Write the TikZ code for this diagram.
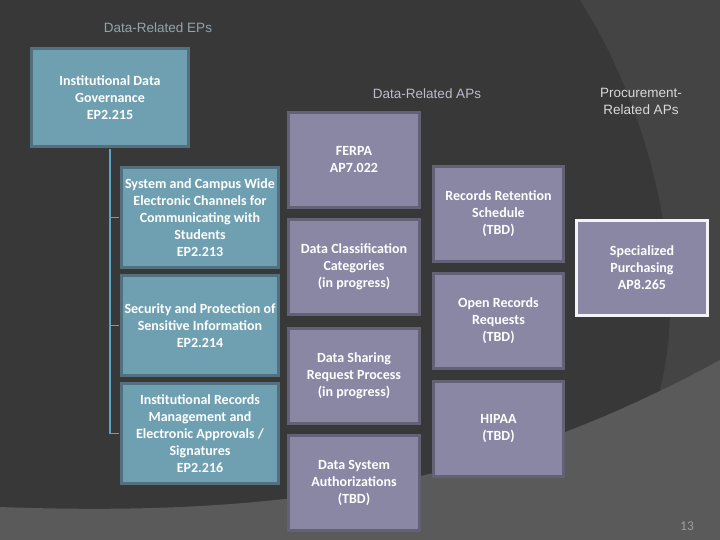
\documentclass[tikz,border=0pt]{standalone}
\usepackage{fontspec}
\setmainfont{Carlito}
\newfontfamily\headfont{Liberation Sans}
\definecolor{slidebg}{HTML}{383838}
\definecolor{slidearc}{HTML}{444444}
\definecolor{slideband}{HTML}{5A5A5A}
\definecolor{epfill}{HTML}{6FA0B1}
\definecolor{epline}{HTML}{52707E}
\definecolor{apfill}{HTML}{8A87A5}
\definecolor{apline}{HTML}{636176}
\definecolor{treeline}{HTML}{5DA3C6}
\definecolor{headep}{HTML}{93A5AD}
\definecolor{headap}{HTML}{BDBBCC}
\begin{document}
\begin{tikzpicture}[x=1pt,y=-1pt,shorten >=1.5pt]
	\tikzstyle{box}=[rectangle,draw,line width=3pt,text=white,align=center,inner sep=0pt,font=\fontsize{14}{17}\selectfont\bfseries]
	\tikzstyle{ep}=[box,fill=epfill,draw=epline,minimum width=157pt,minimum height=100pt]
	\tikzstyle{ap}=[box,fill=apfill,draw=apline,minimum width=131pt,minimum height=95pt]
	\tikzstyle{head}=[align=center,font=\headfont\fontsize{13.5}{17}\selectfont]
	\tikzstyle{tree}=[draw=treeline,line width=1.5pt]

	% slide background
	\fill[slidebg] (0,0) rectangle (720,540);
	\fill[slidearc] (580,0) .. controls (650,110) and (690,270) .. (660,390) -- (720,390) -- (720,0) -- cycle;
	\fill[slideband] (0,507) .. controls (300,518) and (500,480) .. (720,360) -- (720,540) -- (0,540) -- cycle;
	\useasboundingbox (0,0) rectangle (720,540);

	\node [head,text=headep] (heps) at (158,28) {Data-Related EPs};
	\node [head,text=headap] (haps) at (427,94) {Data-Related APs};
	\node [head,text=white!85!black] (hproc) at (641,101) {Procurement-\\Related APs};

	\node [ep,minimum height=98pt] (gov) at (110,97.5) {Institutional Data\\Governance\\EP2.215};
	\node [ep] (ep213) at (200,217.5) {System and Campus Wide\\Electronic Channels for\\Communicating with\\Students\\EP2.213};
	\node [ep] (ep214) at (200,325.5) {Security and Protection of\\Sensitive Information\\EP2.214};
	\node [ep] (ep216) at (200,433.5) {Institutional Records\\Management and\\Electronic Approvals /\\Signatures\\EP2.216};

	\node [ap] (ferpa) at (354,160) {FERPA\\AP7.022};
	\node [ap] (classif) at (354,267) {Data Classification\\Categories\\(in progress)};
	\node [ap] (sharing) at (354,376) {Data Sharing\\Request Process\\(in progress)};
	\node [ap] (sysauth) at (354,483) {Data System\\Authorizations\\(TBD)};

	\node [ap,minimum width=130pt] (retention) at (498.5,214) {Records Retention\\Schedule\\(TBD)};
	\node [ap,minimum width=130pt] (openrec) at (498.5,321) {Open Records\\Requests\\(TBD)};
	\node [ap,minimum width=130pt] (hipaa) at (498.5,429) {HIPAA\\(TBD)};

	\node [ap,draw=white!90!apfill] (purch) at (642,268) {Specialized\\Purchasing\\AP8.265};

	\node [text=white!62!black,font=\fontsize{13.5}{15}\selectfont] (pagenum) at (687,526) {13};

	\path[tree,shorten <=1.5pt] (gov.south) |- (ep216.west);
	\path[tree] (gov.south |- ep213.west) -- (ep213.west);
	\path[tree] (gov.south |- ep214.west) -- (ep214.west);
\end{tikzpicture}
\end{document}
